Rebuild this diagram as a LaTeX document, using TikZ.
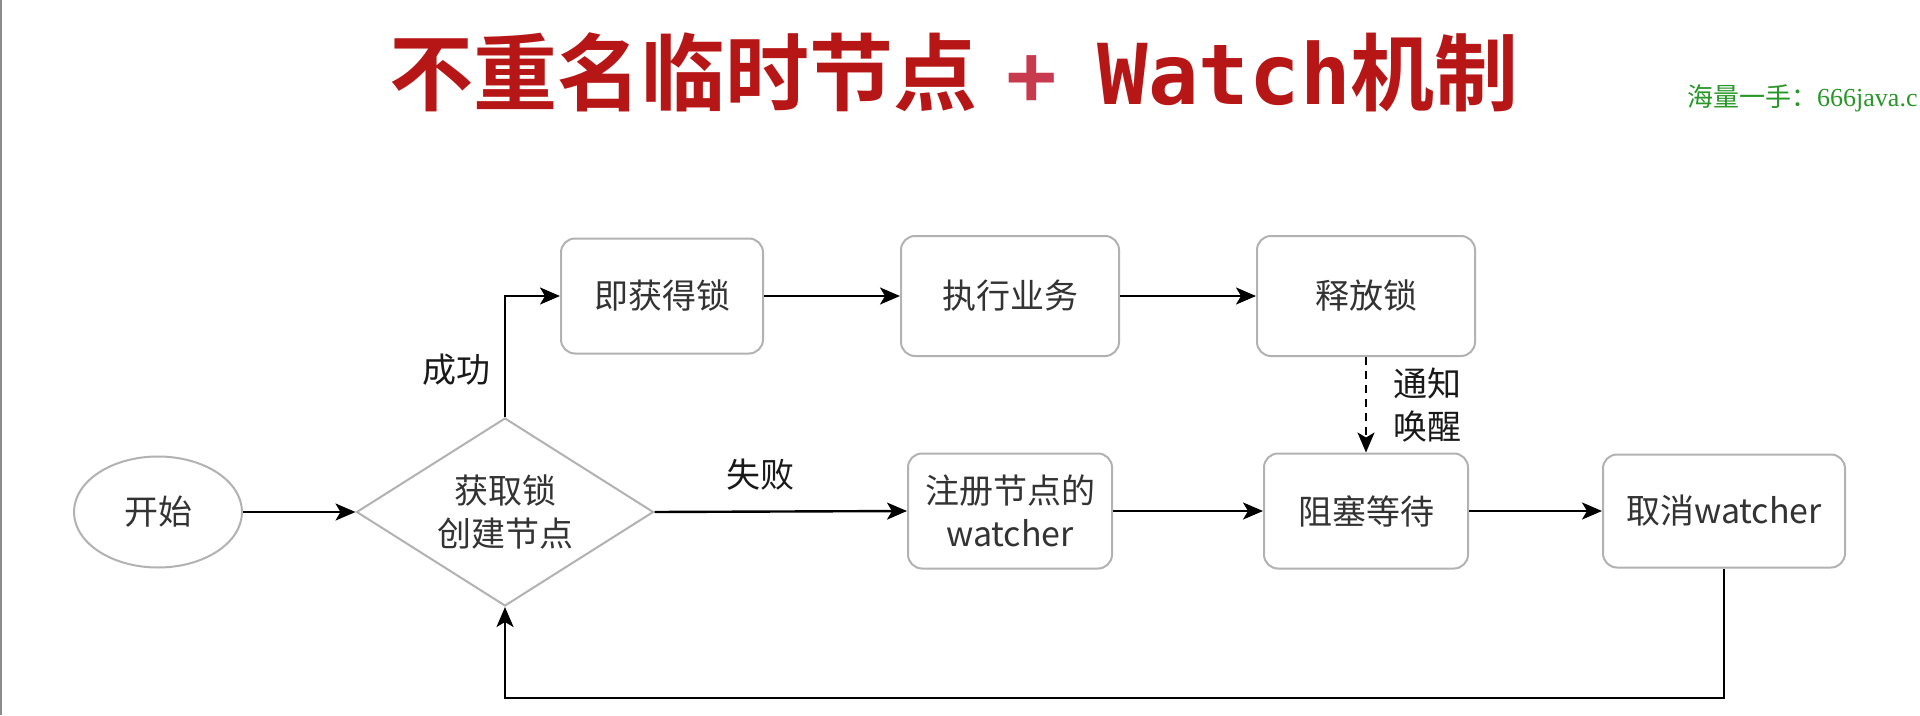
\documentclass[tikz,border=0pt]{standalone}
\usepackage{fontspec}
\usetikzlibrary{shapes.geometric,arrows.meta}
\newfontfamily\cjk{Noto Sans CJK SC}
\newfontfamily\cjkb{Noto Sans CJK SC Bold}
\newfontfamily\monob{DejaVu Sans Mono Bold}
\newfontfamily\wmserif{Liberation Serif}
\definecolor{titlered}{RGB}{183,22,22}
\definecolor{plusred}{RGB}{200,58,78}
\definecolor{txtgray}{RGB}{51,51,51}
\definecolor{bord}{RGB}{178,178,178}
\definecolor{wmgreen}{RGB}{40,150,40}
\tikzset{
  x=1pt, y=-1pt,
  stepbox/.style={draw=bord, line width=2pt, rounded corners=14pt, fill=white,
    text=txtgray, font=\fontsize{34}{43}\selectfont\cjk, align=center, inner sep=0pt},
  conn/.style={line width=2.4pt, draw=black, -{Stealth[length=20pt,width=17pt,inset=5pt]}},
  lbl/.style={font=\fontsize{34}{43}\selectfont\cjk, text=black!90, align=center, inner sep=0pt},
}
\begin{document}
\begin{tikzpicture}
\useasboundingbox (0,0) rectangle (1920,715);
\fill[white] (0,0) rectangle (1920,715);
\draw[black!45, line width=1.5pt] (1,0) -- (1,715);
% title
\node[anchor=base west, inner sep=0pt, text=titlered] (title) at (389,104)
  {\fontsize{84}{84}\selectfont\cjkb 不重名临时节点\hspace{29pt}{\color{plusred}\monob +}\hspace{41pt}{\monob Watch}机制};
% watermark
\node[anchor=west, inner sep=0pt, text=wmgreen] (wm) at (1687,98)
  {\fontsize{26}{26}\selectfont\cjk 海量一手：\wmserif 666java.c};
% nodes
\node[ellipse, draw=bord, line width=2pt, minimum width=168pt, minimum height=111pt, inner sep=0pt,
  text=txtgray, font=\fontsize{34}{43}\selectfont\cjk] (start) at (158,512) {开始};
\node[diamond, aspect=1.58, draw=bord, line width=2pt, minimum width=297pt, minimum height=188pt, inner sep=0pt,
  text=txtgray, font=\fontsize{34}{43}\selectfont\cjk, align=center] (dia) at (505,512) {获取锁\\创建节点};
\node[stepbox, minimum width=202pt, minimum height=115pt] (b1) at (662,296) {即获得锁};
\node[stepbox, minimum width=218pt, minimum height=120pt] (b2) at (1010,296) {执行业务};
\node[stepbox, minimum width=218pt, minimum height=120pt] (b3) at (1366,296) {释放锁};
\node[stepbox, minimum width=204pt, minimum height=115pt] (b4) at (1010,511) {注册节点的\\watcher};
\node[stepbox, minimum width=204pt, minimum height=115pt] (b5) at (1366,511) {阻塞等待};
\node[stepbox, minimum width=242pt, minimum height=113pt] (b6) at (1724,511) {取消watcher};
% labels
\node[lbl] (l1) at (456,370) {成功};
\node[lbl] (l2) at (760,475) {失败};
\node[lbl] (l3) at (1427,405) {通知\\唤醒};
% connectors
\coordinate (loopy) at (0,698);
\draw[conn] (start.east) -- (dia.west);
\draw[conn] (dia.north) |- (b1.west);
\draw[conn] (b1.east) -- (b2.west);
\draw[conn] (b2.east) -- (b3.west);
\draw[conn, dash pattern=on 8pt off 6pt] (b3.south) -- (b5.north);
\draw[conn] (dia.east) -- (b4.west);
\draw[conn] (b4.east) -- (b5.west);
\draw[conn] (b5.east) -- (b6.west);
\draw[conn] (b6.south) -- (b6.south |- loopy) -| (dia.south);
\end{tikzpicture}
\end{document}
